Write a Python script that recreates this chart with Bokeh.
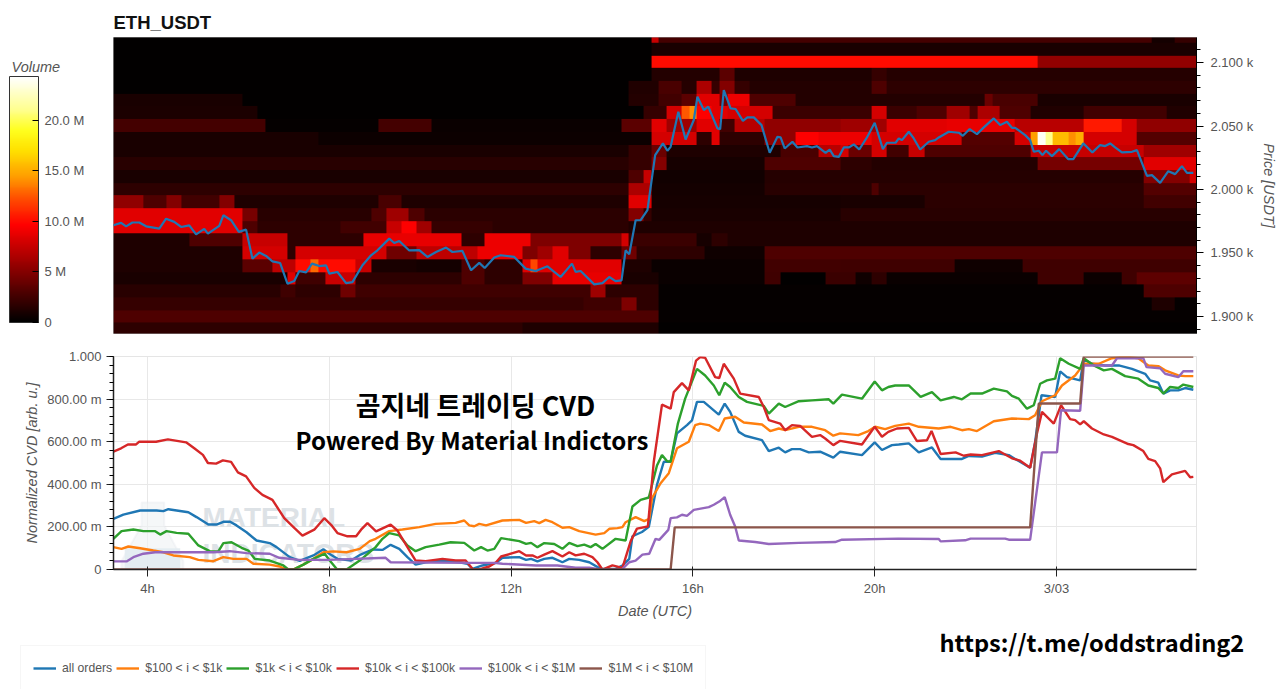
import numpy as np
from bokeh.embed import file_html
from bokeh.layouts import column, row
from bokeh.models import (ColorBar, FixedTicker, Label, Legend, LegendItem, LinearColorMapper,
                          PolyAnnotation, Range1d)
from bokeh.plotting import figure
from bokeh.resources import INLINE

# heatmap: one row per price bin, each row is runs of (end column, volume in M), 10 minute columns
price_bins = [2120, 2110, 2100, 2090, 2080, 2070, 2060, 2050, 2040, 2030, 2020, 2010,
              2000, 1990, 1980, 1970, 1960, 1950, 1940, 1930, 1920, 1910, 1900, 1890]
volume_rows = [
    [(71, 0.1), (72, 7.5), (137, 2.6), (140, 0.8), (143, 2.0)],
    [(71, 0.1), (143, 1.0)],
    [(71, 0.1), (122, 10), (143, 5.6)],
    [(71, 0.1), (80, 1.4), (82, 3.5), (100, 1.2), (102, 2), (143, 1.5)],
    [(68, 0.1), (72, 1.3), (75, 2.8), (77, 1.5), (79, 6.5), (80, 2), (82, 5), (84, 2), (100, 1.4), (102, 3), (143, 1.8)],
    [(17, 1), (68, 0.1), (72, 1.4), (75, 2.5), (77, 3.5), (80, 8.5), (81, 4.5), (84, 9), (90, 3), (115, 1.4), (116, 4), (122, 2.8), (143, 1)],
    [(19, 1.1), (70, 0.1), (73, 2), (75, 8), (76, 12.5), (77, 14), (79, 9.5), (81, 8.5), (87, 8), (96, 2.2), (100, 2.2), (102, 8),
     (106, 2.2), (110, 3), (113, 6), (114, 3), (117, 6.5), (121, 3), (128, 1.3), (139, 2.5), (143, 1.3)],
    [(20, 2.6), (35, 0.2), (42, 2.6), (67, 0.4), (71, 3.5), (73, 8.5), (77, 6), (80, 8.5), (82, 2.5), (86, 7), (96, 5.5), (102, 6),
     (110, 8.5), (119, 8.8), (128, 7), (133, 10.5), (135, 8), (143, 5.5)],
    [(27, 1), (71, 0.5), (77, 8), (79, 1.8), (80, 8.5), (86, 1.8), (90, 5.5), (93, 9.5), (100, 9), (112, 8), (119, 3.2), (121, 8),
     (122, 14.5), (123, 24), (124, 21), (126, 15.5), (127, 14), (128, 15), (135, 8), (143, 3.2)],
    [(68, 1), (71, 2), (73, 4), (88, 1.2), (93, 2.8), (96, 7), (97, 8), (100, 4), (102, 8), (105, 2.5), (107, 7.5), (121, 3), (136, 7.5), (143, 6)],
    [(68, 1.6), (71, 2), (73, 5), (86, 0.9), (96, 3), (100, 1.8), (122, 1.4), (136, 4.5), (143, 8.5)],
    [(68, 1), (70, 3), (71, 7.5), (86, 0.7), (136, 1.5), (142, 5), (143, 8)],
    [(68, 1.8), (71, 6.5), (86, 0.8), (100, 1.6), (101, 3), (136, 1.7), (143, 3.2)],
    [(4, 5.5), (7, 3), (9, 5), (14, 2.5), (16, 5), (35, 1.2), (38, 2.8), (68, 1.2), (71, 8.5), (96, 0.9), (107, 1), (136, 1.7), (143, 2.5)],
    [(17, 8.5), (19, 4.5), (34, 1.6), (36, 3), (39, 6), (41, 3), (68, 1.7), (70, 5), (71, 2), (96, 1), (143, 1.6)],
    [(17, 8.5), (19, 3), (30, 1.8), (36, 2.5), (38, 7.5), (40, 9.5), (42, 6), (50, 2), (68, 1.7), (71, 1.2), (143, 1.2)],
    [(10, 1.2), (17, 3), (23, 7.5), (33, 1.8), (46, 8.8), (49, 1.8), (55, 9), (67, 4.8), (68, 8), (77, 2.2), (79, 0.9), (81, 1.8), (143, 1.2)],
    [(17, 1.2), (23, 8), (24, 1.8), (36, 8), (40, 4.2), (48, 7.2), (54, 9), (56, 4.8), (58, 6), (60, 8.5), (63, 4.8), (67, 1.8), (69, 4.2), (78, 1.8), (86, 0.6), (143, 3)],
    [(17, 1.2), (21, 3.5), (24, 7.2), (26, 10), (27, 13), (32, 10), (34, 7.5), (40, 1), (46, 0.8), (49, 3), (54, 1.8), (55, 8.5), (56, 12), (67, 8.5), (71, 1.2), (86, 0.4),
     (96, 2.5), (111, 2.4), (120, 0.6), (143, 2.4)],
    [(23, 1), (24, 8.5), (28, 2.4), (32, 7.5), (46, 1.8), (49, 3), (54, 1.8), (58, 4.8), (67, 8.8), (72, 1), (86, 0.4), (88, 2.4), (94, 0.1), (98, 2.2), (100, 0.6), (102, 1.8),
     (122, 0.4), (128, 2.4), (133, 0.5), (135, 2.4), (143, 3.6)],
    [(22, 1.6), (24, 2.4), (30, 1.8), (32, 4.2), (63, 2.4), (65, 6), (72, 1.8), (136, 0.2), (143, 3)],
    [(62, 2), (64, 2.4), (67, 2.4), (69, 4.8), (72, 1.8), (137, 0.2), (140, 1.2), (143, 0.2)],
    [(72, 3), (143, 0.2)],
    [(54, 1.8), (72, 1.2), (143, 0.15)],
]

price_hours = [3.25, 3.42, 3.53, 3.67, 3.82, 3.97, 4.26, 4.41, 4.59, 4.74, 4.92, 5.07, 5.25, 5.33, 5.58, 5.67, 5.84, 6.01, 6.17, 6.31,
               6.46, 6.61, 6.75, 6.92, 7.08, 7.23, 7.34, 7.49, 7.62, 7.78, 7.93, 8.0, 8.18, 8.37, 8.51, 8.73, 8.92, 9.06, 9.32, 9.43,
               9.54, 9.76, 9.98, 10.16, 10.35, 10.57, 10.71, 10.93, 11.12, 11.3, 11.42, 11.63, 11.77, 12.07, 12.32, 12.54, 12.8, 13.09, 13.34, 13.42,
               13.53, 13.83, 14.01, 14.16, 14.3, 14.43, 14.52, 14.6, 14.74, 14.85, 15.0, 15.17, 15.34, 15.44, 15.51, 15.68, 15.84, 16.02, 16.1, 16.24,
               16.34, 16.54, 16.6, 16.68, 16.83, 16.94, 17.1, 17.2, 17.34, 17.51, 17.69, 17.86, 17.93, 18.02, 18.19, 18.3, 18.51, 18.62, 18.73, 18.92,
               19.01, 19.1, 19.21, 19.32, 19.43, 19.54, 19.66, 19.83, 20.0, 20.18, 20.27, 20.46, 20.53, 20.6, 20.75, 20.86, 21.0, 21.19, 21.33, 21.41,
               21.63, 21.85, 21.94, 22.09, 22.25, 22.4, 22.62, 22.76, 22.91, 23.02, 23.09, 23.31, 23.42, 23.5, 23.61, 23.69, 23.77, 23.9, 24.06, 24.26,
               24.37, 24.59, 24.79, 24.96, 25.07, 25.18, 25.29, 25.44, 25.66, 25.77, 25.99, 26.1, 26.28, 26.46, 26.61, 26.76, 26.87, 27.01]
price_values = [1971.8, 1973.7, 1971, 1974, 1974, 1971, 1969.2, 1977, 1974.5, 1970.5, 1971.8, 1964.7, 1969, 1965.3, 1971.3, 1979.7, 1975.8, 1966.6, 1968.4, 1945.5,
                1950.3, 1947.7, 1943.4, 1942.1, 1925.8, 1927.9, 1935.8, 1934.7, 1941.6, 1939.7, 1940.3, 1933.7, 1935, 1926.3, 1927.1, 1940.3, 1948.2, 1952.1, 1961.3, 1957.9,
                1959.5, 1952, 1952.2, 1946.9, 1950.8, 1954.3, 1950.8, 1951.6, 1936.4, 1942.2, 1938.2, 1946.4, 1948.2, 1946.9, 1937.7, 1935.8, 1939.5, 1931.1, 1941.6, 1935.1,
                1935.8, 1925.3, 1926.3, 1931.1, 1927.9, 1928.4, 1952.1, 1948.9, 1975.8, 1975.8, 1983.7, 2027.1, 2036.3, 2030.5, 2033.6, 2061.3, 2039.4, 2054.7, 2073.1, 2062.6,
                2065.2, 2048.1, 2047.6, 2078.3, 2063.9, 2063.4, 2054.1, 2056.8, 2056.8, 2050.7, 2028.9, 2041.5, 2041, 2032.3, 2037.6, 2033.1, 2034.2, 2033.1, 2034.2, 2028.9,
                2031.5, 2026.3, 2025.7, 2033.1, 2033.1, 2035.5, 2031.5, 2041, 2052.6, 2031.8, 2036.8, 2036.8, 2040.2, 2038.9, 2045.5, 2040.2, 2031.5, 2037.6, 2038.9, 2041,
                2045.5, 2044.7, 2042.3, 2047.6, 2043.6, 2048.9, 2056, 2050.7, 2053.4, 2048.6, 2048.6, 2042.8, 2038.9, 2029.7, 2030.5, 2027.1, 2030.5, 2026.3, 2031.8, 2023.9,
                2023.9, 2036.3, 2029.2, 2035, 2034.2, 2036.3, 2033.1, 2029.2, 2029.7, 2031, 2010.8, 2011.3, 2005.2, 2014.4, 2012.1, 2018.4, 2013.1, 2013.1]

all_hours = [3.25, 3.47, 3.84, 4.2, 4.35, 4.46, 4.9, 5.08, 5.34, 5.52, 5.67, 5.81, 5.96, 6.18, 6.4, 6.69, 6.84, 7.13, 7.35, 7.65, 7.87, 8.0, 8.18, 8.48, 8.69,
             8.95, 9.17, 9.35, 9.54, 9.72, 9.9, 10.12, 10.49, 10.86, 11.04, 11.15, 11.37, 11.67, 11.81, 12.18, 12.33, 12.44, 12.58, 12.73, 12.91, 13.13, 13.28, 13.5, 13.72, 13.97,
             14.3, 14.45, 14.6, 14.67, 14.88, 15.03, 15.21, 15.36, 15.51, 15.65, 15.87, 15.98, 16.09, 16.24, 16.57, 16.7, 16.82, 17.01, 17.15, 17.52, 17.67, 17.89, 18.03, 18.18, 18.36,
             18.55, 18.8, 19.09, 19.24, 19.72, 20.0, 20.16, 20.38, 20.53, 20.75, 20.97, 21.26, 21.45, 21.92, 22.07, 22.36, 22.65, 22.95, 23.09, 23.42, 23.53, 23.67, 23.97, 24.08, 24.23,
             24.52, 24.6, 24.78, 25.07, 25.37, 25.66, 25.95, 26.06, 26.24, 26.35, 26.5, 26.68, 26.83, 27.01]
all_cvd = [.238, .258, .277, .277, .274, .283, .269, .246, .211, .211, .224, .225, .207, .175, .136, .124, .105, .058, .04, .066, .095, .074, .05, .042, .07,
           .094, .092, .116, .097, .058, .023, .034, .042, .034, .027, .003, .019, .031, .055, .058, .045, .05, .038, .05, .055, .034, .05, .045, .034, .003,
           .003, .019, .05, .156, .176, .2, .397, .506, .506, .639, .678, .7, .787, .787, .727, .779, .74, .646, .628, .607, .556, .572, .55, .565, .565,
           .55, .553, .525, .553, .537, .597, .561, .584, .587, .592, .55, .573, .519, .519, .533, .53, .548, .537, .519, .478, .6, .818, .81, .93, .903,
           .888, .986, .966, .958, .958, .942, .919, .888, .877, .826, .841, .841, .852, .844]

orange_hours = [3.25, 3.43, 3.58, 3.84, 4.13, 4.35, 4.57, 4.93, 5.12, 5.45, 5.67, 5.89, 6.18, 6.33, 6.69, 6.91, 7.06, 7.21, 7.43, 7.65, 7.87, 8.09, 8.38, 8.67, 8.89,
                9.02, 9.32, 9.61, 9.98, 10.34, 10.78, 10.97, 11.08, 11.19, 11.3, 11.45, 11.81, 12.18, 12.33, 12.51, 12.62, 12.76, 12.91, 13.13, 13.28, 13.5, 13.86, 14.05, 14.16, 14.34,
                14.45, 14.52, 14.74, 14.93, 15.04, 15.1, 15.29, 15.47, 15.65, 15.91, 16.05, 16.16, 16.35, 16.57, 16.7, 16.93, 17.12, 17.52, 17.7, 17.89, 18.03, 18.33, 18.62, 18.91, 19.09,
                19.24, 19.64, 19.86, 20.01, 20.23, 20.45, 20.75, 20.97, 21.41, 21.67, 21.92, 22.07, 22.25, 22.62, 23.02, 23.39, 23.53, 23.68, 23.97, 24.12, 24.41, 24.52, 24.6, 24.93, 25.22,
                25.51, 25.8, 26.02, 26.24, 26.39, 26.68, 26.83, 27.01]
orange_cvd = [.105, .097, .108, .1, .089, .081, .066, .058, .045, .039, .058, .05, .05, .027, .023, .014, 0, 0, .023, .05, .081, .085, .081, .097, .133,
              .144, .18, .188, .199, .214, .219, .23, .207, .203, .214, .207, .23, .233, .219, .227, .218, .233, .222, .196, .199, .18, .164, .171, .191, .194,
              .199, .222, .246, .227, .238, .335, .405, .452, .569, .6, .678, .685, .678, .65, .709, .717, .69, .681, .65, .662, .654, .67, .67, .654, .628,
              .639, .631, .65, .67, .659, .674, .685, .67, .662, .67, .654, .659, .65, .696, .709, .706, .724, .79, .818, .864, .911, .942, .966, .966, .992,
              1.0, .992, .958, .955, .935, .911, .908, .908]

green_hours = [3.25, 3.43, 3.69, 3.91, 4.17, 4.28, 4.42, 4.64, 4.9, 5.12, 5.37, 5.56, 5.67, 5.85, 6.07, 6.22, 6.36, 6.69, 6.99, 7.1, 7.21, 7.43, 7.65, 7.9, 8.01,
               8.16, 8.38, 8.67, 9.02, 9.17, 9.32, 9.54, 9.72, 9.9, 10.12, 10.42, 10.67, 10.97, 11.19, 11.34, 11.48, 11.63, 11.78, 12.18, 12.33, 12.44, 12.58, 12.73, 12.95, 13.13,
               13.28, 13.46, 13.61, 13.75, 13.86, 14.01, 14.3, 14.52, 14.67, 14.85, 15.03, 15.21, 15.32, 15.43, 15.51, 15.67, 15.83, 16.09, 16.27, 16.46, 16.58, 16.7, 16.82, 17.01, 17.19,
               17.56, 17.67, 17.89, 18.03, 18.33, 18.62, 18.99, 19.09, 19.28, 19.72, 20.0, 20.16, 20.3, 20.45, 20.75, 21.01, 21.26, 21.45, 21.74, 21.92, 22.11, 22.36, 22.62, 22.91, 23.02,
               23.17, 23.35, 23.5, 23.64, 23.79, 23.97, 24.08, 24.27, 24.52, 24.6, 24.82, 25.04, 25.22, 25.51, 25.8, 26.02, 26.24, 26.35, 26.5, 26.68, 26.79, 27.01]
green_cvd = [.144, .18, .188, .18, .18, .164, .18, .172, .168, .113, .086, .085, .124, .128, .102, .089, .05, .042, .019, 0, 0, .023, .05, .074, .042,
             .003, 0, .042, .105, .144, .171, .16, .113, .086, .105, .117, .128, .125, .089, .105, .089, .097, .147, .133, .12, .125, .105, .124, .12, .097,
             .125, .11, .117, .105, .12, .097, .144, .136, .296, .327, .338, .488, .537, .509, .506, .685, .802, .942, .911, .864, .818, .877, .857, .81, .787,
             .768, .732, .779, .763, .79, .794, .799, .779, .821, .802, .883, .841, .857, .864, .864, .81, .833, .794, .81, .799, .826, .826, .849, .836, .815,
             .802, .755, .771, .872, .888, .896, .992, .966, .942, .992, .958, .935, .942, .908, .896, .864, .852, .826, .857, .852, .868, .857]

red_hours = [3.25, 3.42, 3.57, 3.75, 3.82, 4.19, 4.45, 4.85, 5.03, 5.22, 5.33, 5.51, 5.66, 5.84, 5.99, 6.17, 6.35, 6.53, 6.75, 7.01, 7.23, 7.41, 7.67, 7.89, 8.04,
             8.18, 8.4, 8.59, 8.7, 8.84, 9.03, 9.35, 9.5, 9.72, 9.9, 10.12, 10.49, 10.78, 11.0, 11.15, 11.3, 11.52, 11.67, 11.78, 12.18, 12.33, 12.47, 12.58, 12.73, 12.91,
             13.13, 13.28, 13.42, 13.61, 13.79, 13.9, 14.01, 14.23, 14.45, 14.63, 14.77, 15.01, 15.14, 15.32, 15.51, 15.58, 15.76, 15.91, 16.07, 16.16, 16.27, 16.49, 16.58, 16.68, 16.9,
             17.04, 17.45, 17.56, 17.67, 17.92, 18.03, 18.18, 18.36, 18.62, 18.8, 18.91, 19.09, 19.24, 19.72, 20.0, 20.16, 20.3, 20.49, 20.75, 20.93, 21.15, 21.25, 21.45, 21.78, 21.96,
             22.11, 22.36, 22.73, 23.02, 23.2, 23.42, 23.57, 23.68, 23.94, 24.1, 24.3, 24.41, 24.52, 24.6, 24.78, 25.04, 25.22, 25.58, 25.69, 25.91, 26.02, 26.17, 26.28, 26.35, 26.54,
             26.83, 26.94, 27.01]
red_cvd = [.553, .569, .587, .587, .6, .6, .611, .597, .569, .538, .5, .497, .512, .505, .456, .437, .383, .35, .327, .241, .195, .159, .187, .241, .21,
           .171, .156, .156, .187, .218, .179, .211, .183, .105, .042, .039, .05, .042, .042, .003, 0, .014, .034, .061, .086, .066, .066, .055, .07, .086,
           .061, .081, .066, .074, .058, .034, 0, .019, .008, .132, .192, .202, .506, .774, .755, .833, .875, .841, .981, .997, .994, .903, .899, .966, .896,
           .826, .81, .763, .701, .685, .654, .678, .674, .623, .631, .615, .584, .604, .587, .67, .623, .646, .662, .665, .603, .607, .65, .542, .55, .534,
           .54, .537, .556, .522, .511, .478, .639, .74, .685, .771, .706, .701, .681, .696, .662, .634, .623, .589, .584, .556, .519, .509, .475, .41, .447,
           .463, .433, .435]

purple_hours = [3.25, 3.54, 3.69, 3.91, 4.17, 5.45, 5.81, 6.18, 6.69, 6.9, 7.34, 8.0, 9.24, 9.35, 11.08, 11.63, 11.81, 12.55, 13.02, 13.42, 13.72, 13.97, 14.45, 14.6, 14.74,
                14.89, 15.04, 15.18, 15.26, 15.46, 15.51, 15.65, 15.76, 15.87, 16.02, 16.35, 16.46, 16.58, 16.7, 16.82, 16.93, 17.01, 17.37, 17.67, 18.33, 19.13, 19.28, 20.52, 21.41, 21.45,
                21.99, 22.11, 22.87, 22.95, 23.42, 23.68, 24.01, 24.1, 24.52, 24.6, 25.22, 25.33, 25.91, 25.98, 26.28, 26.39, 26.68, 26.79, 27.01]
purple_cvd = [.038, .038, .058, .074, .081, .081, .086, .077, .074, .055, .045, .045, .055, .034, .031, .031, .027, .019, .019, .008, .008, 0, .003, .034, .042,
              .07, .074, .144, .139, .186, .241, .245, .257, .252, .28, .293, .304, .319, .34, .257, .202, .136, .129, .12, .125, .129, .14, .145, .143, .132,
              .137, .145, .145, .14, .14, .55, .55, .748, .745, .958, .958, .992, .992, .95, .945, .919, .903, .931, .931]

brown_hours = [3.25, 15.51, 15.6, 23.42, 23.61, 24.52, 24.6, 27.01]
brown_cvd = [0, 0, .198, .198, .779, .779, 1.0, 1.0]

series_names = ["all orders", "$100 < i < $1k", "$1k < i < $10k", "$10k < i < $100k", "$100k < i < $1M", "$1M < i < $10M"]
series_colors = ["#1f77b4", "#ff7f0e", "#2ca02c", "#d62728", "#9467bd", "#8c564b"]

hour_ticks = [4, 8, 12, 16, 20, 24]
hour_labels = ["4h", "8h", "12h", "16h", "20h", "3/03"]
cvd_ticks = [0, 0.2, 0.4, 0.6, 0.8, 1.0]
cvd_labels = ["0", "200.00 m", "400.00 m", "600.00 m", "800.00 m", "1.000"]
cvd_minor = [i * 0.04 for i in range(26)]
price_ticks = [1900, 1950, 2000, 2050, 2100]
price_labels = ["1.900 k", "1.950 k", "2.000 k", "2.050 k", "2.100 k"]
price_minor = list(range(1890, 2121, 10))
volume_ticks = [0, 5, 10, 15, 20]
volume_labels = ["0", "5 M", "10.0 M", "15.0 M", "20.0 M"]


def expand(runs):
    row_vals = []
    for end, val in runs:
        row_vals += [val] * (end - len(row_vals))
    return row_vals


def fire_palette():
    stops = [0, 9.6, 12, 14.5, 17, 19, 21, 24.3]
    reds = [0, 255, 255, 255, 255, 255, 255, 255]
    greens = [0, 0, 70, 160, 225, 255, 255, 255]
    blues = [0, 0, 0, 0, 0, 30, 140, 255]
    vals = np.linspace(0, 24.3, 256)
    r = np.interp(vals, stops, reds).astype(int)
    g = np.interp(vals, stops, greens).astype(int)
    b = np.interp(vals, stops, blues).astype(int)
    return ["#%02x%02x%02x" % (r[i], g[i], b[i]) for i in range(256)]


def blank_figure(w, h):
    f = figure(width=w, height=h, min_border=0, x_axis_type=None, y_axis_type=None, x_range=Range1d(0, 1), y_range=Range1d(0, 1),
               toolbar_location=None, output_backend="svg")
    f.outline_line_color = None
    f.grid.visible = False
    return f


AXIS_TEXT = "#555555"
FONT = "Liberation Sans"
x_range = Range1d(3.253, 27.08)
mapper = LinearColorMapper(palette=fire_palette(), low=0, high=24.3)

# colour bar column, left of the heatmap; its frame lines up with the heatmap frame
side = blank_figure(113, 340)
bar = ColorBar(color_mapper=mapper, location=(9, 11), width=29, height=246, padding=0,
               ticker=FixedTicker(ticks=volume_ticks), major_label_overrides=dict(zip(volume_ticks, volume_labels)),
               major_label_text_font=FONT, major_label_text_font_size="13px", major_label_text_color=AXIS_TEXT,
               label_standoff=6, major_tick_line_color="#000000", major_tick_in=6, bar_line_color="#333333",
               minor_tick_line_color=None, background_fill_color=None, border_line_color=None)
side.add_layout(bar, "center")
side.add_layout(Label(x=11, y=267, x_units="screen", y_units="screen", text="Volume", text_font=FONT, text_font_size="14.5px",
                      text_font_style="italic", text_color=AXIS_TEXT, text_baseline="middle"))

# price / volume panel
heat = figure(width=1161, height=340, frame_width=1083, frame_height=296, min_border_left=0, min_border_top=37,
              min_border_bottom=7, min_border_right=78, x_range=x_range, y_range=Range1d(1886.6, 2119.7),
              y_axis_location="right", toolbar_location=None, output_backend="svg", title="ETH_USDT")
heat.title.text_font = FONT
heat.title.text_font_size = "18.5px"
heat.title.text_font_style = "bold"
heat.title.text_color = "#111111"
heat.xaxis.visible = False
heat.grid.visible = False
heat.outline_line_color = "#999999"

grid = np.array([expand(r) for r in volume_rows])[::-1]
heat.image(image=[grid], x=3.25, y=price_bins[-1] - 5, dw=grid.shape[1] / 6, dh=len(price_bins) * 10, color_mapper=mapper)
heat.line(price_hours, price_values, line_width=2.2, color="#1f77b4")

yaxis = heat.yaxis[0]
yaxis.ticker = FixedTicker(ticks=price_ticks, minor_ticks=price_minor)
yaxis.major_label_overrides = dict(zip(price_ticks, price_labels))
yaxis.axis_label = "Price [USDT]"
yaxis.axis_label_text_font = FONT
yaxis.axis_label_text_font_size = "14.5px"
yaxis.axis_label_text_font_style = "italic"
yaxis.axis_label_text_color = AXIS_TEXT
yaxis.axis_label_standoff = 5
yaxis.major_label_standoff = 7
yaxis.major_label_text_font = FONT
yaxis.major_label_text_font_size = "13px"
yaxis.major_label_text_color = AXIS_TEXT
yaxis.major_tick_in = 0
yaxis.major_tick_out = 7
yaxis.minor_tick_in = 0
yaxis.minor_tick_out = 4

# CVD panel
cvd = figure(width=1274, height=279, frame_width=1083, frame_height=213, min_border_left=113, min_border_top=16,
             min_border_bottom=50, min_border_right=78, x_range=x_range, y_range=Range1d(0, 1),
             toolbar_location=None, output_backend="svg")
cvd.outline_line_color = "#e5e5e5"
cvd.grid.grid_line_color = "#e8e8e8"
cvd.xaxis.ticker = FixedTicker(ticks=hour_ticks)
cvd.xaxis.major_label_overrides = dict(zip(hour_ticks, hour_labels))
cvd.xaxis.axis_label = "Date (UTC)"
cvd.xaxis.axis_label_standoff = 4
cvd.xaxis.major_tick_in = 3
cvd.xaxis.major_tick_out = 7
cvd.xaxis.minor_tick_line_color = None
cvd.xaxis.major_label_standoff = 4
cvd.xgrid.ticker = FixedTicker(ticks=hour_ticks)
cvd.yaxis.ticker = FixedTicker(ticks=cvd_ticks, minor_ticks=cvd_minor)
cvd.ygrid.ticker = FixedTicker(ticks=cvd_ticks)
cvd.yaxis.major_label_overrides = dict(zip(cvd_ticks, cvd_labels))
cvd.yaxis.axis_label = "Normalized CVD [arb. u.]"
cvd.yaxis.major_tick_in = 0
cvd.yaxis.major_tick_out = 7
cvd.yaxis.minor_tick_in = 0
cvd.yaxis.minor_tick_out = 4
cvd.yaxis.axis_label_standoff = 4
for ax in [cvd.xaxis[0], cvd.yaxis[0]]:
    ax.axis_line_color = "#222222"
    ax.axis_line_width = 1.5
    ax.major_tick_line_color = "#222222"
    ax.axis_label_text_font = FONT
    ax.axis_label_text_font_size = "14.5px"
    ax.axis_label_text_font_style = "italic"
    ax.axis_label_text_color = AXIS_TEXT
    ax.major_label_text_font = FONT
    ax.major_label_text_font_size = "13px"
    ax.major_label_text_color = AXIS_TEXT

# watermark behind the lines
cvd.add_layout(PolyAnnotation(xs=[3.87, 3.87, 3.43, 3.43, 4.79, 4.79, 4.37, 4.37], ys=[.315, .207, .04, 0, 0, .04, .207, .315],
                              fill_color="#eef1f4", fill_alpha=0.6, line_color="#e2e6ea", line_width=2, level="underlay"))
cvd.add_layout(PolyAnnotation(xs=[3.5, 3.5, 4.72, 4.72], ys=[0, .1, .1, 0], fill_color="#e2ebf1", fill_alpha=0.9,
                              line_color=None, level="underlay"))
for txt, sx, sy in [("MATERIAL", 89, 52), ("INDICATORS", 89, 16)]:
    cvd.add_layout(Label(x=sx, y=sy, x_units="screen", y_units="screen", text=txt, text_font=FONT, text_font_size="28px",
                         text_font_style="bold", text_color="#dde2e6", text_baseline="middle", level="underlay"))

line_data = [(all_hours, all_cvd), (orange_hours, orange_cvd), (green_hours, green_cvd),
             (red_hours, red_cvd), (purple_hours, purple_cvd), (brown_hours, brown_cvd)]
for (hrs, vals), col in zip(line_data, series_colors):
    cvd.line(hrs, vals, line_width=2.4, color=col)

overlay_font = "Noto Sans CJK KR"
for txt, sx, sy, size, align in [("곰지네 트레이딩 CVD", 362, 165, "27px", "center"),
                                 ("Powered By Material Indictors", 182, 130, "24px", "left")]:
    cvd.add_layout(Label(x=sx, y=sy, x_units="screen", y_units="screen", text=txt, text_font=overlay_font, text_font_size=size,
                         text_font_style="bold", text_color="#000000", text_align=align, text_baseline="middle"))

# legend strip and link along the bottom, the strip's range keeps its copy of the lines out of view
strip = blank_figure(1274, 70)
keys = [strip.line(hrs, vals, line_width=2.4, color=col) for (hrs, vals), col in zip(line_data, series_colors)]
legend = Legend(items=[LegendItem(label=n, renderers=[r]) for n, r in zip(series_names, keys)],
                orientation="horizontal", location=(20, 0), padding=12, spacing=4, glyph_width=23, glyph_height=20,
                label_standoff=6, margin=0, label_text_font=FONT, label_text_font_size="12.2px", label_text_color="#555555",
                border_line_color="#eeeeee", background_fill_color="#ffffff", background_fill_alpha=1)
strip.add_layout(legend, "center")
strip.add_layout(Label(x=939, y=50, x_units="screen", y_units="screen", text="https://t.me/oddstrading2", text_font=overlay_font,
                       text_font_size="23.6px", text_font_style="bold", text_color="#000000", text_baseline="middle"))

page = column(row(side, heat, spacing=0), row(cvd), row(strip), spacing=0)
open("out.html", "w").write(file_html(page, INLINE))
